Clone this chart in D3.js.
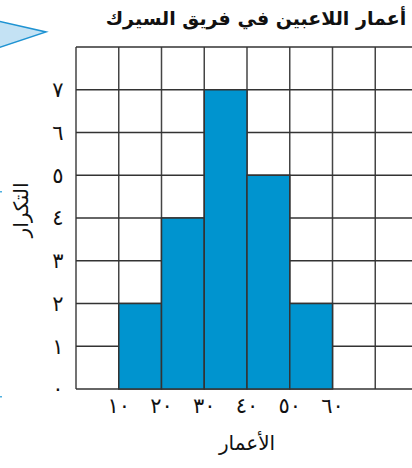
<!DOCTYPE html>
<html><head><meta charset="utf-8">
<script src="https://cdn.jsdelivr.net/npm/d3@7"></script>
<style>html,body{margin:0;padding:0;background:#fff;overflow:hidden}</style>
</head><body>
<script>
const binStarts = [10, 20, 30, 40, 50];
const binEnds = [20, 30, 40, 50, 60];
const frequencies = [2, 4, 7, 5, 2];
const xTickValues = [10, 20, 30, 40, 50, 60];
const xTickLabels = ["١٠", "٢٠", "٣٠", "٤٠", "٥٠", "٦٠"];
const yTickValues = [0, 1, 2, 3, 4, 5, 6, 7];
const yTickLabels = ["٠", "١", "٢", "٣", "٤", "٥", "٦", "٧"];
const titleText = "أعمار اللاعبين في فريق السيرك";
const xTitle = "الأعمار";
const yTitle = "التكرار";

const W = 412, H = 468;
const svg = d3.select("body").append("svg").attr("width", W).attr("height", H);
const font = "'DejaVu Sans', sans-serif";

// decorative triangle
svg.append("path").attr("d", "M-2,21 L46,32 L-2,48 Z")
  .attr("fill", "#c4e2f4").attr("stroke", "#1f93d2").attr("stroke-width", 1.5);
svg.append("rect").attr("x", 0).attr("y", 191).attr("width", 2).attr("height", 1.5).attr("fill", "#4fb0e0");
svg.append("rect").attr("x", 0).attr("y", 396).attr("width", 2).attr("height", 1.5).attr("fill", "#4fb0e0");

const x = d3.scaleLinear().domain([0, 80]).range([76, 418]);
const y = d3.scaleLinear().domain([0, 8]).range([389, 47]);

const g = svg.append("g");
// grid
const gridX = d3.range(0, 81, 10);
const gridY = d3.range(0, 9, 1);
g.selectAll("line.v").data(gridX).join("line")
  .attr("x1", d => x(d)).attr("x2", d => x(d))
  .attr("y1", y(8)).attr("y2", y(0))
  .attr("stroke", "#444").attr("stroke-width", 1.5);
g.selectAll("line.h").data(gridY).join("line")
  .attr("x1", x(0)).attr("x2", x(80))
  .attr("y1", d => y(d)).attr("y2", d => y(d))
  .attr("stroke", "#333").attr("stroke-width", 1.5);

// bars
g.selectAll("rect.bar").data(frequencies).join("rect")
  .attr("x", (d, i) => x(binStarts[i]))
  .attr("width", (d, i) => x(binEnds[i]) - x(binStarts[i]))
  .attr("y", d => y(d))
  .attr("height", d => y(0) - y(d))
  .attr("fill", "#0094cf").attr("stroke", "#333").attr("stroke-width", 1.5);

// y tick labels
svg.selectAll("text.yt").data(yTickValues).join("text")
  .attr("x", 58).attr("y", d => y(d)).attr("dy", "0.35em")
  .attr("text-anchor", "middle").attr("font-family", font)
  .attr("font-size", 21).attr("fill", "#111")
  .text((d, i) => yTickLabels[i]);

// x tick labels
svg.selectAll("text.xt").data(xTickValues).join("text")
  .attr("x", d => x(d)).attr("y", 413)
  .attr("text-anchor", "middle").attr("font-family", font)
  .attr("font-size", 21).attr("fill", "#111")
  .text((d, i) => xTickLabels[i]);

// titles
svg.append("text").attr("x", 256).attr("y", 25).attr("text-anchor", "middle")
  .attr("font-family", font).attr("font-weight", "bold").attr("font-size", 19)
  .attr("fill", "#111").text(titleText);
svg.append("text").attr("x", 247).attr("y", 450).attr("text-anchor", "middle")
  .attr("font-family", font).attr("font-size", 20).attr("fill", "#111").text(xTitle);
svg.append("text").attr("transform", "translate(28,210) rotate(-90)").attr("text-anchor", "middle")
  .attr("font-family", font).attr("font-size", 20).attr("fill", "#111").text(yTitle);
</script>
</body></html>
